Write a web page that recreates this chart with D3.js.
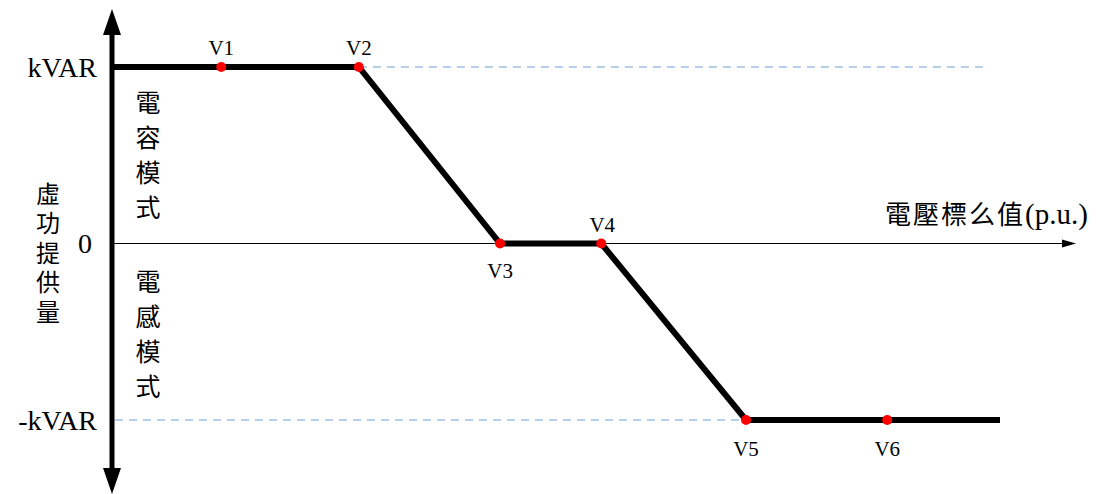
<!DOCTYPE html>
<html>
<head>
<meta charset="utf-8">
<script src="https://d3js.org/d3.v7.min.js"></script>
<style>
  body { margin: 0; background: #fff; }
  svg { display: block; }
</style>
</head>
<body>
<div id="chart"></div>
<script>
// voltage points (arbitrary p.u. scale along axis) and reactive output level
var pointNames = ["V1", "V2", "V3", "V4", "V5", "V6"];
var voltage = [12.3, 27.8, 43.7, 55.1, 71.4, 87.3];
var reactive = [1, 1, 0, 0, -1, -1];
var lineStart = 0, lineEnd = 100;
var yTicks = [1, 0, -1];
var yTickLabels = ["kVAR", "0", "-kVAR"];
var upperMode = ["電", "容", "模", "式"];
var lowerMode = ["電", "感", "模", "式"];
var yTitle = ["虛", "功", "提", "供", "量"];
var xTitleCjk = "電壓標么值";
var xTitleUnit = "(p.u.)";

var width = 1108, height = 494;
var serif = "'Liberation Serif', 'DejaVu Serif', serif";
var cjk = "'Noto Sans CJK TC', 'Noto Sans CJK SC', sans-serif";

var svg = d3.select("#chart")
  .append("svg")
    .attr("width", width)
    .attr("height", height);

var x = d3.scaleLinear()
    .domain([0, 100])
    .range([112, 1000]);

var y = d3.scaleLinear()
    .domain([-1, 1])
    .range([420, 67]);

// dashed guides
svg.append("line")
    .attr("x1", x(voltage[1])).attr("x2", x(98.6))
    .attr("y1", y(1)).attr("y2", y(1))
    .attr("stroke", "#6f9fd6").attr("stroke-width", 1)
    .attr("stroke-dasharray", "8,6");
svg.append("line")
    .attr("x1", x(0) + 3).attr("x2", x(voltage[4]))
    .attr("y1", y(-1)).attr("y2", y(-1))
    .attr("stroke", "#6f9fd6").attr("stroke-width", 1)
    .attr("stroke-dasharray", "8,6");

// x axis with arrow
svg.append("line")
    .attr("x1", x(0)).attr("x2", 1064)
    .attr("y1", y(0)).attr("y2", y(0))
    .attr("stroke", "#000").attr("stroke-width", 1);
svg.append("path")
    .attr("d", "M1076," + y(0) + " L1062," + (y(0) - 4) + " L1062," + (y(0) + 4) + " Z")
    .attr("fill", "#000");

// y axis with arrows at both ends
var ax = x(0);
svg.append("line")
    .attr("x1", ax).attr("x2", ax)
    .attr("y1", 32).attr("y2", 472)
    .attr("stroke", "#000").attr("stroke-width", 5);
svg.append("path")
    .attr("d", "M" + ax + ",9 L" + (ax - 9) + ",35 L" + (ax + 9) + ",35 Z")
    .attr("fill", "#000");
svg.append("path")
    .attr("d", "M" + ax + ",494 L" + (ax - 9) + ",468 L" + (ax + 9) + ",468 Z")
    .attr("fill", "#000");

// characteristic curve
var pts = [[lineStart, 1]].concat(voltage.map(function(v, i) { return [v, reactive[i]]; }), [[lineEnd, -1]]);
var line = d3.line()
    .x(function(d) { return x(d[0]); })
    .y(function(d) { return y(d[1]); });
svg.append("path")
    .datum(pts)
    .attr("d", line)
    .attr("fill", "none")
    .attr("stroke", "#000")
    .attr("stroke-width", 6)
    .attr("stroke-linejoin", "miter");

// points
svg.selectAll(".pt")
  .data(voltage)
  .enter()
  .append("circle")
    .attr("cx", function(d) { return x(d); })
    .attr("cy", function(d, i) { return y(reactive[i]); })
    .attr("r", 5)
    .attr("fill", "#ff0000");

// point labels
var labelDy = [-12, -12, 34, -12, 36, 36];
svg.selectAll(".plabel")
  .data(pointNames)
  .enter()
  .append("text")
    .attr("x", function(d, i) { return x(voltage[i]) + (i == 3 ? 1 : 0); })
    .attr("y", function(d, i) { return y(reactive[i]) + labelDy[i]; })
    .attr("text-anchor", "middle")
    .attr("font-family", serif)
    .attr("font-size", 21)
    .attr("fill", "#000")
    .text(function(d) { return d; });

// y tick labels
svg.selectAll(".ytick")
  .data(yTicks)
  .enter()
  .append("text")
    .attr("x", function(d) { return d == 0 ? 85 : 97; })
    .attr("y", function(d) { return y(d); })
    .attr("dy", "0.35em")
    .attr("text-anchor", function(d) { return d == 0 ? "middle" : "end"; })
    .attr("font-family", serif)
    .attr("font-size", 28)
    .attr("fill", "#000")
    .text(function(d, i) { return yTickLabels[i]; });

// vertical labels, one character per line
function vertical(chars, cx, y0, step, size) {
  svg.append("g").selectAll("text")
    .data(chars)
    .enter()
    .append("text")
      .attr("x", cx)
      .attr("y", function(d, i) { return y0 + i * step; })
      .attr("dy", "0.36em")
      .attr("text-anchor", "middle")
      .attr("font-family", cjk)
      .attr("font-size", size)
      .attr("fill", "#000")
      .text(function(d) { return d; });
}
vertical(upperMode, 148, 103, 35, 25);
vertical(lowerMode, 148, 282, 35, 25);
vertical(yTitle, 48, 194, 29.5, 24);

// x title
svg.append("text")
    .attr("x", 885)
    .attr("y", 215)
    .attr("dy", "0.35em")
    .attr("font-family", cjk)
    .attr("font-size", 26)
    .style("letter-spacing", "2px")
    .attr("fill", "#000")
    .text(xTitleCjk)
  .append("tspan")
    .attr("font-family", serif)
    .attr("font-size", 29)
    .style("letter-spacing", "0px")
    .text(xTitleUnit);
</script>
</body>
</html>
